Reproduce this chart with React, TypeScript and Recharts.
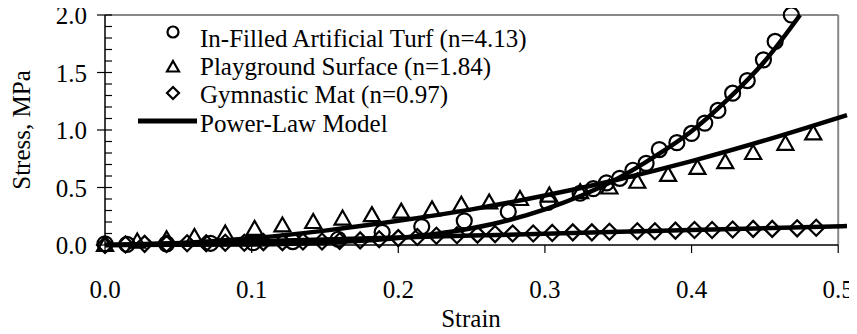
import { ComposedChart, Scatter, Line, XAxis, YAxis, ReferenceLine, Legend } from 'recharts';

// measured points (strain, stress MPa)
const turfStrain = [0, 0.015, 0.042, 0.072, 0.101, 0.128, 0.159, 0.189, 0.216, 0.245, 0.275, 0.302, 0.324, 0.333, 0.342, 0.351, 0.36, 0.369, 0.378, 0.39, 0.4, 0.409, 0.418, 0.428, 0.438, 0.449, 0.457, 0.468];
const turfStress = [0.01, 0.005, 0.01, 0.015, 0.02, 0.03, 0.05, 0.11, 0.16, 0.21, 0.29, 0.37, 0.45, 0.49, 0.54, 0.58, 0.65, 0.71, 0.83, 0.89, 0.97, 1.06, 1.17, 1.32, 1.43, 1.61, 1.77, 2.0];

const playStrain = [0, 0.022, 0.042, 0.061, 0.082, 0.102, 0.121, 0.142, 0.162, 0.182, 0.202, 0.223, 0.243, 0.262, 0.283, 0.303, 0.324, 0.344, 0.363, 0.384, 0.404, 0.423, 0.442, 0.464, 0.483];
const playStress = [0, 0.03, 0.05, 0.07, 0.1, 0.14, 0.17, 0.2, 0.23, 0.26, 0.29, 0.31, 0.35, 0.37, 0.4, 0.43, 0.46, 0.5, 0.55, 0.61, 0.67, 0.72, 0.8, 0.88, 0.97];

const matStrain = [0, 0.014, 0.027, 0.042, 0.056, 0.069, 0.082, 0.095, 0.108, 0.121, 0.135, 0.148, 0.16, 0.174, 0.187, 0.2, 0.213, 0.226, 0.24, 0.254, 0.266, 0.278, 0.292, 0.305, 0.319, 0.332, 0.344, 0.363, 0.375, 0.389, 0.402, 0.414, 0.428, 0.442, 0.455, 0.472, 0.485];
const matStress = [0, 0.005, 0.01, 0.01, 0.015, 0.015, 0.02, 0.02, 0.025, 0.025, 0.03, 0.03, 0.035, 0.04, 0.05, 0.06, 0.07, 0.08, 0.085, 0.09, 0.095, 0.1, 0.1, 0.105, 0.11, 0.11, 0.115, 0.12, 0.12, 0.125, 0.13, 0.13, 0.135, 0.14, 0.14, 0.145, 0.15];

// power-law model curves
const turfFitStrain = [0, 0.1, 0.15, 0.2, 0.225, 0.25, 0.275, 0.3, 0.325, 0.35, 0.375, 0.4, 0.425, 0.45, 0.474];
const turfFitStress = [0, 0.005, 0.02, 0.06, 0.095, 0.145, 0.215, 0.31, 0.43, 0.58, 0.77, 0.99, 1.27, 1.6, 2.0];
const playFitStrain = [0, 0.05, 0.1, 0.15, 0.2, 0.25, 0.3, 0.35, 0.4, 0.45, 0.506];
const playFitStress = [0, 0.016, 0.058, 0.125, 0.21, 0.31, 0.43, 0.57, 0.73, 0.91, 1.13];
const matFitStrain = [0, 0.1, 0.2, 0.3, 0.4, 0.506];
const matFitStress = [0, 0.033, 0.065, 0.098, 0.13, 0.165];

const seriesNames = ['In-Filled Artificial Turf (n=4.13)', 'Playground Surface (n=1.84)', 'Gymnastic Mat (n=0.97)', 'Power-Law Model'];
const xTicks = [0, 0.1, 0.2, 0.3, 0.4, 0.5];
const yTicks = [0, 0.1, 0.2, 0.3, 0.4, 0.5, 0.6, 0.7, 0.8, 0.9, 1.0, 1.1, 1.2, 1.3, 1.4, 1.5, 1.6, 1.7, 1.8, 1.9, 2.0];

const zip = (xs: number[], ys: number[]) => xs.map((x, i) => ({ x, y: ys[i] }));

const FONT = '"Liberation Serif", "Times New Roman", serif';
const FS = 25;

const CircleMark = ({ cx, cy, r = 7.5 }: any) => (
  <circle cx={cx} cy={cy} r={r} fill="none" stroke="#000" strokeWidth={2.2} />
);
const TriMark = ({ cx, cy, s = 8 }: any) => (
  <path d={`M${cx},${cy - s} L${cx + s},${cy + s * 0.75} L${cx - s},${cy + s * 0.75} Z`} fill="none" stroke="#000" strokeWidth={2.2} />
);
const DiaMark = ({ cx, cy, s = 8 }: any) => (
  <path d={`M${cx},${cy - s} L${cx + s},${cy} L${cx},${cy + s} L${cx - s},${cy} Z`} fill="none" stroke="#000" strokeWidth={2.2} />
);

const YTick = ({ x, y, payload }: any) => {
  const v = payload.value;
  const major = Math.abs(v * 2 - Math.round(v * 2)) < 1e-6;
  return (
    <g>
      <line x1={major ? x - 8 : x} x2={x + 7} y1={y} y2={y} stroke="#000" strokeWidth={1.2} />
      {major && (
        <text x={x - 18} y={y} dy={9} textAnchor="end" fontFamily={FONT} fontSize={FS} fill="#000">
          {v.toFixed(1)}
        </text>
      )}
    </g>
  );
};

const XTick = ({ x, y, payload }: any) => (
  <g>
    <line x1={x} x2={x} y1={y} y2={y + 8} stroke="#000" strokeWidth={1.2} />
    <text x={x} y={y + 53} textAnchor="middle" fontFamily={FONT} fontSize={FS} fill="#000">
      {payload.value.toFixed(1)}
    </text>
  </g>
);

const LegendBox = () => {
  const rows = [47, 75, 103, 132];
  const marks = [32, 67, 93, 121];
  return (
    <svg width={570} height={145} style={{ display: 'block' }}>
      <CircleMark cx={173} cy={marks[0]} r={5.5} />
      <TriMark cx={173} cy={marks[1]} s={6} />
      <DiaMark cx={173} cy={marks[2]} s={6} />
      <line x1={138} x2={197} y1={marks[3]} y2={marks[3]} stroke="#000" strokeWidth={5} />
      {seriesNames.map((n, i) => (
        <text key={n} x={200} y={rows[i]} fontFamily={FONT} fontSize={FS} fill="#000">
          {n}
        </text>
      ))}
    </svg>
  );
};

export default function App() {
  return (
    <div style={{ margin: '-8px 0 0 -8px', width: 857, height: 334 }}>
      <ComposedChart width={857} height={334} margin={{ top: 15, right: 10, left: 45, bottom: 4 }}>
        <XAxis
          type="number"
          dataKey="x"
          domain={[0, 0.506]}
          ticks={xTicks}
          tick={<XTick />}
          tickSize={0}
          tickMargin={0}
          axisLine={false}
          tickLine={false}
          height={85}
          label={() => (
            <text x={471} y={327} textAnchor="middle" fontFamily={FONT} fontSize={FS} fill="#000">
              Strain
            </text>
          )}
        />
        <YAxis
          type="number"
          dataKey="y"
          domain={[0, 2]}
          ticks={yTicks}
          interval={0}
          tick={<YTick />}
          tickSize={0}
          tickMargin={0}
          axisLine={{ stroke: '#000', strokeWidth: 1.5 }}
          tickLine={false}
          width={60}
          label={() => (
            <text x={30} y={130} transform="rotate(-90 30 130)" textAnchor="middle" fontFamily={FONT} fontSize={FS} fill="#000">
              Stress, MPa
            </text>
          )}
        />
        <ReferenceLine segment={[{ x: 0, y: 2 }, { x: 0.5, y: 2 }]} stroke="#888" strokeWidth={2} ifOverflow="visible" />
        <ReferenceLine segment={[{ x: 0.5, y: 0 }, { x: 0.5, y: 2 }]} stroke="#888" strokeWidth={2} ifOverflow="visible" />
        <ReferenceLine segment={[{ x: 0, y: 0 }, { x: 0.5, y: 0 }]} stroke="#000" strokeWidth={1.5} ifOverflow="visible" />
        <Legend
          verticalAlign="middle"
          align="center"
          layout="horizontal"
          wrapperStyle={{ top: 0, left: 0, width: 570, height: 145 }}
          content={() => <LegendBox />}
        />
        <Scatter name="turf" data={zip(turfStrain, turfStress)} shape={<CircleMark />} isAnimationActive={false} />
        <Scatter name="play" data={zip(playStrain, playStress)} shape={<TriMark />} isAnimationActive={false} />
        <Scatter name="mat" data={zip(matStrain, matStress)} shape={<DiaMark />} isAnimationActive={false} />
        <Line data={zip(turfFitStrain, turfFitStress)} dataKey="y" type="monotone" stroke="#000" strokeWidth={4.5} dot={false} legendType="none" isAnimationActive={false} />
        <Line data={zip(playFitStrain, playFitStress)} dataKey="y" type="monotone" stroke="#000" strokeWidth={4.5} dot={false} legendType="none" isAnimationActive={false} />
        <Line data={zip(matFitStrain, matFitStress)} dataKey="y" type="monotone" stroke="#000" strokeWidth={4.5} dot={false} legendType="none" isAnimationActive={false} />
      </ComposedChart>
    </div>
  );
}
